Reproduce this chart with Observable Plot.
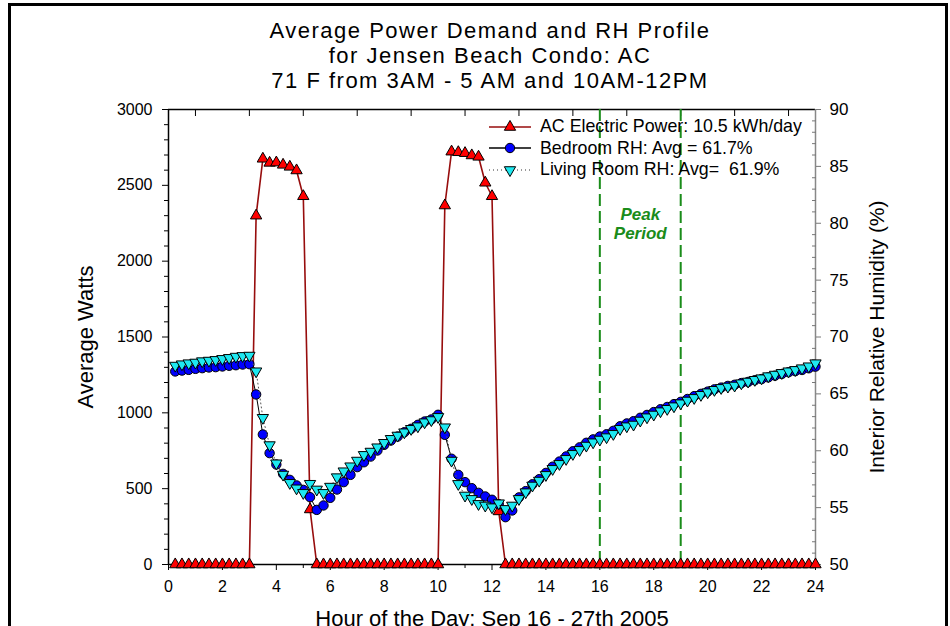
<!DOCTYPE html>
<html>
<head>
<meta charset="utf-8">
<script src="https://cdn.jsdelivr.net/npm/d3@7"></script>
<script src="https://cdn.jsdelivr.net/npm/@observablehq/plot@0.6"></script>
<style>
  body { margin: 0; background: #fff; font-family: "Liberation Sans", Arial, sans-serif; }
  #wrap { position: relative; width: 950px; height: 626px; overflow: hidden; background: #fff; }
  #title { position: absolute; left: 0; top: 0; width: 980px; height: 100px; text-align: center;
           font-size: 22px; line-height: 25px; letter-spacing: 1.5px; padding-top: 18px;
           box-sizing: border-box; color: #000; }
  #chart { position: absolute; left: 0; top: 100px; }
  #legend { position: absolute; left: 486px; top: 116px; font-size: 17.8px; color: #000; }
  #legend .row { display: flex; align-items: center; height: 21.5px; }
  #legend svg { width: 48px; height: 20px; margin-right: 6px; }
  #border { position: absolute; left: 8px; top: 3px; width: 934px; height: 700px;
            border: 3px solid #000; pointer-events: none; }
</style>
</head>
<body>
<div id="wrap">
  <div id="title"></div>
  <div id="chart"></div>
  <div id="legend"></div>
  <div id="border"></div>
</div>
<script>
// Title lines
const titleLines = [
  "Average Power Demand and RH Profile",
  "for Jensen Beach Condo: AC",
  "71 F from 3AM - 5 AM and 10AM-12PM"
];

// Hour of day, 15-minute averages
const hours = [
  0.25, 0.5, 0.75, 1, 1.25, 1.5, 1.75, 2, 2.25, 2.5, 2.75, 3,
  3.25, 3.5, 3.75, 4, 4.25, 4.5, 4.75, 5, 5.25, 5.5, 5.75, 6,
  6.25, 6.5, 6.75, 7, 7.25, 7.5, 7.75, 8, 8.25, 8.5, 8.75, 9,
  9.25, 9.5, 9.75, 10, 10.25, 10.5, 10.75, 11, 11.25, 11.5, 11.75, 12,
  12.25, 12.5, 12.75, 13, 13.25, 13.5, 13.75, 14, 14.25, 14.5, 14.75, 15,
  15.25, 15.5, 15.75, 16, 16.25, 16.5, 16.75, 17, 17.25, 17.5, 17.75, 18,
  18.25, 18.5, 18.75, 19, 19.25, 19.5, 19.75, 20, 20.25, 20.5, 20.75, 21,
  21.25, 21.5, 21.75, 22, 22.25, 22.5, 22.75, 23, 23.25, 23.5, 23.75, 24
];

// AC electric power (W)
const acPower = [
  0, 0, 0, 0, 0, 0, 0, 0, 0, 0, 0, 0,
  2300, 2675, 2648, 2650, 2635, 2622, 2598, 2428, 363, 0, 0, 0,
  0, 0, 0, 0, 0, 0, 0, 0, 0, 0, 0, 0,
  0, 0, 0, 0, 2367, 2722, 2718, 2712, 2697, 2688, 2517, 2428,
  350, 0, 0, 0, 0, 0, 0, 0, 0, 0, 0, 0,
  0, 0, 0, 0, 0, 0, 0, 0, 0, 0, 0, 0,
  0, 0, 0, 0, 0, 0, 0, 0, 0, 0, 0, 0,
  0, 0, 0, 0, 0, 0, 0, 0, 0, 0, 0, 0
];

// Bedroom relative humidity (%)
const bedroomRH = [
  66.97, 67.05, 67.11, 67.2, 67.26, 67.32, 67.35, 67.41, 67.47, 67.52, 67.58, 67.61,
  64.95, 61.43, 59.79, 58.79, 57.97, 57.44, 56.95, 56.56, 55.92, 54.8, 55.19, 55.86,
  56.59, 57.24, 57.88, 58.56, 58.99, 59.49, 60.02, 60.52, 60.9, 61.25, 61.63, 61.93,
  62.28, 62.57, 62.75, 63.16, 61.4, 59.3, 57.88, 57.24, 56.71, 56.3, 55.98, 55.69,
  55.3, 54.16, 54.75, 55.9, 56.45, 57.05, 57.5, 58.05, 58.6, 59.05, 59.5, 59.95,
  60.3, 60.7, 61.0, 61.25, 61.45, 61.75, 62.15, 62.4, 62.6, 62.9, 63.15, 63.4,
  63.65, 63.85, 64.1, 64.3, 64.55, 64.8, 65.0, 65.2, 65.4, 65.55, 65.7, 65.8,
  65.95, 66.05, 66.2, 66.3, 66.45, 66.6, 66.75, 66.9, 67.0, 67.1, 67.25, 67.4
];

// Living room relative humidity (%)
const livingRH = [
  67.49, 67.61, 67.7, 67.76, 67.88, 67.93, 67.99, 68.08, 68.17, 68.28, 68.34, 68.37,
  66.99, 62.9, 60.5, 58.9, 57.91, 57.18, 56.7, 56.3, 57.1, 56.6, 56.3, 56.85,
  57.68, 58.2, 58.64, 59.14, 59.64, 59.93, 60.31, 60.7, 61.05, 61.34, 61.63, 61.93,
  62.16, 62.51, 62.7, 62.98, 62.07, 59.14, 57.09, 56.07, 55.77, 55.33, 55.19, 55.04,
  55.39, 54.89, 55.19, 55.77, 56.36, 56.95, 57.38, 57.88, 58.41, 58.85, 59.29, 59.73,
  60.08, 60.46, 60.75, 60.99, 61.2, 61.49, 61.93, 62.16, 62.31, 62.66, 62.95, 63.19,
  63.48, 63.69, 63.92, 64.18, 64.42, 64.65, 64.92, 65.15, 65.36, 65.53, 65.65, 65.74,
  65.94, 66.09, 66.24, 66.38, 66.56, 66.7, 66.85, 66.99, 67.11, 67.26, 67.43, 67.7
];

// Axis ticks and labels
const hourTicks = [0, 2, 4, 6, 8, 10, 12, 14, 16, 18, 20, 22, 24];
const wattTicks = [0, 500, 1000, 1500, 2000, 2500, 3000];
const rhTicks = [50, 55, 60, 65, 70, 75, 80, 85, 90];
const peakBounds = [16, 19];
const peakLabel = "Peak\nPeriod";
const peakLabelRH = 80;
const legendLabels = [
  "AC Electric Power: 10.5 kWh/day",
  "Bedroom RH: Avg = 61.7%",
  "Living Room RH: Avg=  61.9%"
];
const xLabel = "Hour of the Day: Sep 16 - 27th 2005";
const yLabel = "Average Watts";
const y2Label = "Interior Relative Humidity (%)";

// Styles
const powerLine = "#970d0d", powerFill = "#ff0000";
const bedroomFill = "#0000ff", livingFill = "#1ee8f0";
const peakGreen = "#1a8c1a";

document.getElementById("title").innerHTML = titleLines.join("<br>");

// RH shares the watt axis through a linear mapping (50–90 % ↔ 0–3000 W)
const rhToW = d3.scaleLinear().domain([50, 90]).range([0, 3000]);

const rows = hours.map((h, i) => ({
  hour: h, power: acPower[i], bedroom: rhToW(bedroomRH[i]), living: rhToW(livingRH[i])
}));

const minorHours = d3.range(1, 24, 2);
const minorWatts = d3.range(0, 3001, 100).filter(v => v % 500 !== 0);
const minorRH = d3.range(50, 91, 1).filter(v => v % 5 !== 0);
const font = "Liberation Sans, Arial, sans-serif";

const plot = Plot.plot({
  width: 950,
  height: 526,
  marginTop: 9,
  marginBottom: 62,
  marginLeft: 168,
  marginRight: 135,
  style: { fontFamily: font, color: "#000", background: "transparent", overflow: "visible" },
  x: { domain: [0, 24] },
  y: { domain: [0, 3000] },
  marks: [
    // frame lines
    Plot.ruleY([0], { stroke: "#000", strokeWidth: 1.5 }),
    Plot.ruleY([3000], { stroke: "#000", strokeWidth: 1.5 }),
    Plot.ruleX([0], { stroke: "#000", strokeWidth: 1.5 }),
    Plot.ruleX([24], { stroke: "#888", strokeWidth: 1.5 }),

    // bottom axis
    Plot.axisX(hourTicks, { anchor: "bottom", tickSize: 6, tickPadding: 10, fontSize: 16, label: null, tickFormat: d => String(d) }),
    Plot.axisX(minorHours, { anchor: "bottom", tickSize: 4, label: null, tickFormat: () => "" }),
    // top axis: inward ticks at odd hours
    Plot.axisX(minorHours, { anchor: "top", tickSize: -6, label: null, tickFormat: () => "" }),

    // left axis
    Plot.axisY(wattTicks, { anchor: "left", tickSize: 6, tickPadding: 10, fontSize: 16, label: null, tickFormat: d => String(d) }),
    Plot.axisY(minorWatts, { anchor: "left", tickSize: 4, label: null, tickFormat: () => "" }),

    // right axis (RH)
    Plot.axisY(rhTicks.map(rhToW), { anchor: "right", tickSize: 5, tickPadding: 9, fontSize: 17, label: null,
      stroke: "#777", tickFormat: d => String(Math.round(rhToW.invert(d))) }),
    Plot.axisY(minorRH.map(rhToW), { anchor: "right", tickSize: -4, stroke: "#777", label: null, tickFormat: () => "" }),

    // axis titles
    Plot.text([yLabel], { frameAnchor: "left", textAnchor: "middle", rotate: -90, dx: -83, fontSize: 22 }),
    Plot.text([y2Label], { frameAnchor: "right", textAnchor: "middle", rotate: -90, dx: 62, fontSize: 21 }),
    Plot.text([xLabel], { x: 12, frameAnchor: "bottom", dy: 61, fontSize: 22 }),

    // peak period
    Plot.ruleX(peakBounds, { stroke: peakGreen, strokeWidth: 2, strokeDasharray: "12,5" }),
    Plot.text([peakLabel], { x: d3.mean(peakBounds), y: rhToW(peakLabelRH), fill: peakGreen,
      fontWeight: "bold", fontStyle: "italic", fontSize: 17, lineHeight: 1.15 }),

    // AC power
    Plot.line(rows, { x: "hour", y: "power", stroke: powerLine, strokeWidth: 1.6 }),
    Plot.dot(rows, { x: "hour", y: "power", symbol: "triangle", r: 4.2, fill: powerFill, stroke: "#000", strokeWidth: 1 }),

    // bedroom RH
    Plot.line(rows, { x: "hour", y: "bedroom", stroke: "#000", strokeWidth: 1 }),
    Plot.dot(rows, { x: "hour", y: "bedroom", symbol: "circle", r: 4.7, fill: bedroomFill, stroke: "#000", strokeWidth: 1 }),

    // living room RH
    Plot.line(rows, { x: "hour", y: "living", stroke: "#555", strokeWidth: 1, strokeDasharray: "1,3" }),
    Plot.dot(rows, { x: "hour", y: "living", symbol: "triangle", rotate: 180, r: 4.2, fill: livingFill, stroke: "#000", strokeWidth: 1 })
  ]
});
document.getElementById("chart").appendChild(plot);

// Legend
const legendStyles = [
  { line: powerLine, dash: null, symbol: d3.symbolTriangle, fill: powerFill, rotate: 0, r: 4.2 },
  { line: "#000", dash: null, symbol: d3.symbolCircle, fill: bedroomFill, rotate: 0, r: 4.7 },
  { line: "#777", dash: "1,3", symbol: d3.symbolTriangle, fill: livingFill, rotate: 180, r: 4.2 }
];
const legend = d3.select("#legend");
legendLabels.forEach((label, i) => {
  const s = legendStyles[i];
  const row = legend.append("div").attr("class", "row");
  const svg = row.append("svg");
  svg.append("line").attr("x1", 3).attr("x2", 45).attr("y1", 10).attr("y2", 10)
    .attr("stroke", s.line).attr("stroke-width", 1.5).attr("stroke-dasharray", s.dash);
  svg.append("path").attr("d", d3.symbol(s.symbol, Math.PI * s.r * s.r)())
    .attr("transform", `translate(24,10) rotate(${s.rotate})`)
    .attr("fill", s.fill).attr("stroke", "#000");
  row.append("span").text(label).style("white-space", "pre");
});
</script>
</body>
</html>
